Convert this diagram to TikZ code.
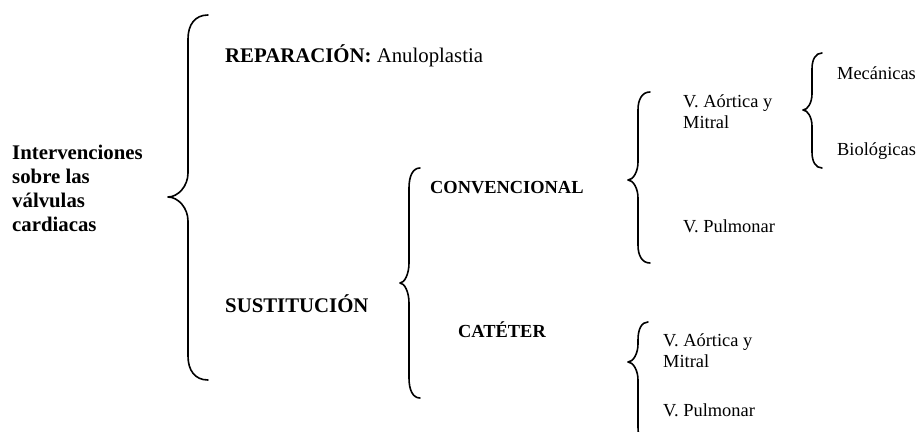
\documentclass[tikz,border=0pt]{standalone}
\usepackage{fontspec}
\setmainfont{Liberation Serif}
\newcommand{\bigf}{\fontsize{20.8}{24}\selectfont}
\newcommand{\smallf}{\fontsize{18.4}{20.5}\selectfont}
% \cbrace{xtip}{ytip}{xline}{xend}{ytop}{ybot}{hook}
\newcommand{\cbrace}[7]{%
  \draw[bracepen] (#4,#5) .. controls ({#3+0.35*(#4-#3)},#5) and (#3,{#5+0.4*#7}) .. (#3,{#5+#7})
    -- (#3,{#2-#7}) .. controls (#3,{#2-0.45*#7}) and ({#1+0.5*(#3-#1)},#2) .. (#1,#2)
    .. controls ({#1+0.5*(#3-#1)},#2) and (#3,{#2+0.45*#7}) .. (#3,{#2+#7})
    -- (#3,{#6-#7}) .. controls (#3,{#6-0.4*#7}) and ({#3+0.35*(#4-#3)},#6) .. (#4,#6);}
\tikzset{
  bracepen/.style={line width=1.6pt, line cap=round, line join=round},
  bigbold/.style={font=\bigf\bfseries, inner sep=0pt, anchor=base west, align=left},
  smallbold/.style={font=\smallf\bfseries, inner sep=0pt, anchor=base west},
  smalltext/.style={font=\smallf, inner sep=0pt, anchor=base west, align=left},
}
\begin{document}
\begin{tikzpicture}[x=1pt,y=-1pt]
\useasboundingbox (0,0) rectangle (918,431);
% braces
\cbrace{168}{197}{188}{208}{15}{380}{24}
\cbrace{400}{283}{409}{420}{168}{398}{20}
\cbrace{628}{180}{638}{650}{92}{263}{18}
\cbrace{628}{362}{638}{648}{322}{445}{18}
\cbrace{803}{110}{812}{822}{53}{168}{16}
% texts (multi-line nodes: base = last line)
\node[bigbold] (root) at (12,231) {Intervenciones\\sobre las\\válvulas\\cardiacas};
\node[bigbold] (rep) at (225,62) {REPARACIÓN: \mdseries Anuloplastia};
\node[bigbold] (sus) at (225,312) {SUSTITUCIÓN};
\node[smallbold] (conv) at (430,193) {CONVENCIONAL};
\node[smallbold] (cat) at (458,337) {CATÉTER};
\node[smalltext] (am1) at (683,128) {V. Aórtica y\\Mitral};
\node[smalltext] (pul1) at (683,232) {V. Pulmonar};
\node[smalltext] (mec) at (837,79) {Mecánicas};
\node[smalltext] (bio) at (837,155) {Biológicas};
\node[smalltext] (am2) at (663,367) {V. Aórtica y\\Mitral};
\node[smalltext] (pul2) at (663,416) {V. Pulmonar};
\end{tikzpicture}
\end{document}
